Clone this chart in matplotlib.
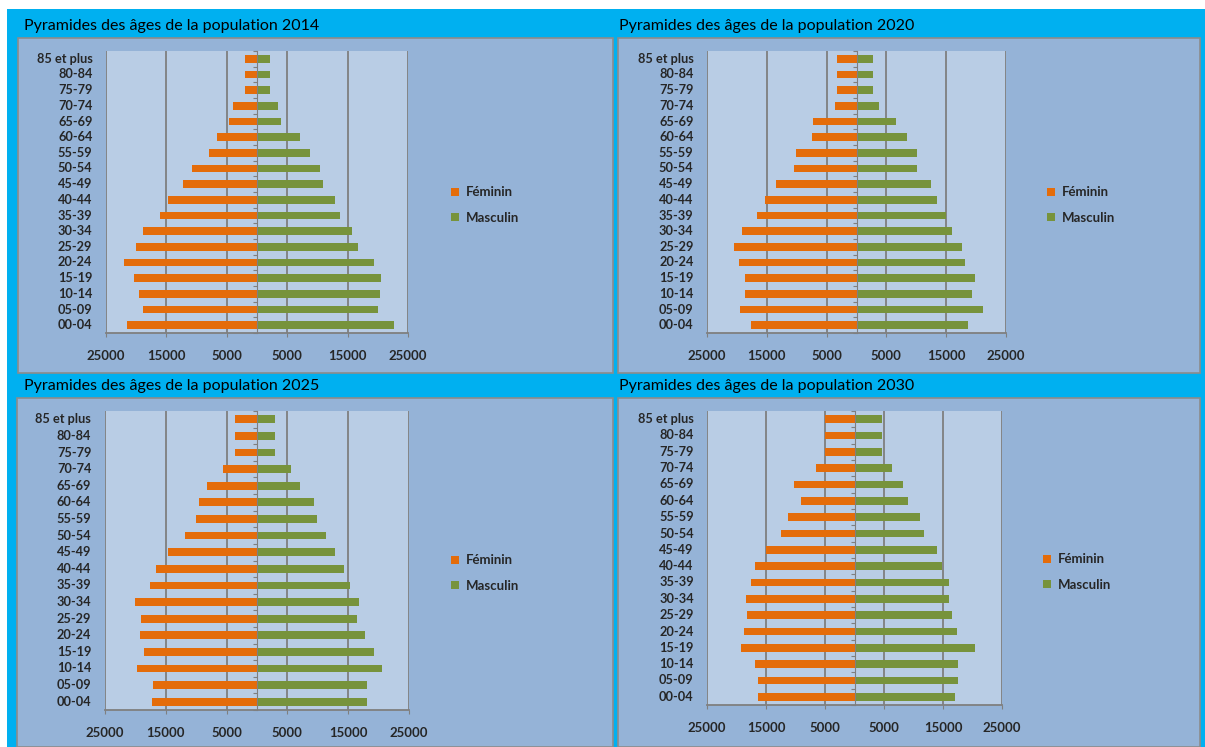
import numpy as np
import matplotlib
matplotlib.use("Agg")
import matplotlib.pyplot as plt
from matplotlib.patches import Rectangle
from matplotlib.transforms import blended_transform_factory

plt.rcParams['font.family'] = ['Lato', 'DejaVu Sans']

# age groups, bottom to top
ages = ['00-04', '05-09', '10-14', '15-19', '20-24', '25-29', '30-34', '35-39', '40-44',
        '45-49', '50-54', '55-59', '60-64', '65-69', '70-74', '75-79', '80-84', '85 et plus']

years = [2014, 2020, 2025, 2030]

fem_2014 = [21600, 18800, 19600, 20300, 22100, 20100, 18800, 16000, 14700,
            12200, 10700, 8000, 6700, 4700, 3900, 2000, 2000, 2000]
mas_2014 = [22600, 20000, 20300, 20500, 19300, 16700, 15700, 13700, 12900,
            10900, 10400, 8700, 7100, 3900, 3400, 2100, 2100, 2100]

fem_2020 = [17600, 19500, 18700, 18700, 19700, 20500, 19200, 16600, 15300,
            13500, 10400, 10200, 7400, 7200, 3600, 3300, 3300, 3300]
mas_2020 = [18600, 21100, 19300, 19800, 18100, 17600, 16000, 15000, 13500,
            12400, 10100, 10100, 8400, 6600, 3800, 2700, 2700, 2700]

fem_2025 = [17300, 17100, 19800, 18600, 19300, 19100, 20100, 17600, 16600,
            14600, 11800, 10100, 9600, 8300, 5600, 3600, 3600, 3600]
mas_2025 = [18100, 18100, 20500, 19300, 17800, 16500, 16800, 15300, 14300,
            12800, 11300, 9800, 9300, 7100, 5600, 2900, 2900, 2900]

fem_2030 = [16300, 16300, 16900, 19200, 18700, 18200, 18400, 17600, 16900,
            15000, 12500, 11200, 9100, 10200, 6500, 5000, 5000, 5000]
mas_2030 = [17000, 17500, 17500, 20400, 17300, 16500, 16000, 16000, 14900,
            13900, 11800, 11100, 9000, 8200, 6400, 4600, 4600, 4600]

data = {2014: (fem_2014, mas_2014), 2020: (fem_2020, mas_2020),
        2025: (fem_2025, mas_2025), 2030: (fem_2030, mas_2030)}

xticks = [-25000, -15000, -5000, 5000, 15000, 25000]

W, H = 1205, 747
fig = plt.figure(figsize=(W / 100, H / 100), dpi=100)
fig.patch.set_facecolor('white')


def fx(x):
    return x / W


def fy(y):
    return 1 - y / H


def rect(x0, y0, x1, y1, fc, ec='none', lw=0):
    fig.patches.append(Rectangle((fx(x0), fy(y1)), fx(x1) - fx(x0), fy(y0) - fy(y1),
                                 transform=fig.transFigure, facecolor=fc, edgecolor=ec,
                                 linewidth=lw, zorder=-5))


# cyan background
rect(7, 9, W, H, '#00B0F0')

# panel layout: box, title pos, plot area, legend pos (pixels)
panels = [
    (18, 38, 613, 373, 24, 26, 106, 51, 408, 333, 439, 205),
    (618, 38, 1200, 373, 619, 26, 707, 51, 1006, 333, 1035, 205),
    (17, 398, 613, 747, 24, 386, 105, 411, 409, 710, 439, 573),
    (618, 398, 1200, 747, 619, 386, 707, 411, 1002, 705, 1031, 572),
]

orange = '#E46C0A'
green = '#77933C'
grid_c = '#7F7F7F'
txt_c = '#262626'

for year, p in zip(years, panels):
    bx0, by0, bx1, by1, tx, ty, px0, py0, px1, py1, lx, ly = p
    rect(bx0, by0, bx1, by1, '#95B3D7', ec='#8C8C8C', lw=1.2)
    fig.text(fx(tx), fy(ty), 'Pyramides des âges de la population %d' % year,
             fontsize=11.5, color='black', va='center', ha='left')

    fem, mas = data[year]
    ax = fig.add_axes([fx(px0), fy(py1), fx(px1) - fx(px0), fy(py0) - fy(py1)])
    ax.set_facecolor('#B9CDE5')
    y = np.arange(len(ages))
    hf = ax.barh(y, -np.array(fem), height=0.47, color=orange, zorder=3, label='Féminin')
    hm = ax.barh(y, mas, height=0.47, color=green, zorder=3, label='Masculin')

    ax.set_xlim(-25000, 25000)
    ax.set_ylim(-0.5, len(ages) - 0.5)
    ax.set_xticks(xticks)
    ax.set_xticklabels([str(abs(v)) for v in xticks], fontsize=9.5, fontweight='bold', color=txt_c)
    ax.tick_params(axis='x', length=3, color=grid_c, pad=9)
    ax.xaxis.grid(True, color=grid_c, linewidth=1.3, zorder=1)
    ax.set_axisbelow(True)

    # central axis with ticks between categories
    ax.spines['left'].set_position(('data', 0))
    ax.spines['left'].set_color(grid_c)
    ax.spines['left'].set_zorder(4)
    ax.set_yticks(np.arange(-0.5, len(ages), 1))
    ax.set_yticklabels([])
    ax.tick_params(axis='y', length=3, color=grid_c, direction='out')
    for s in ['top', 'right']:
        ax.spines[s].set_visible(False)
    ax.spines['bottom'].set_color(grid_c)
    ax.spines['bottom'].set_linewidth(1.3)

    tr = blended_transform_factory(ax.transAxes, ax.transData)
    for i, a in enumerate(ages):
        ax.text(-0.045, i, a, transform=tr, ha='right', va='center',
                fontsize=9.2, fontweight='bold', color=txt_c)

    fig.legend(handles=[hf, hm], loc='center left',
               bbox_to_anchor=(fx(lx), fy(ly)), frameon=False,
               handlelength=0.6, handleheight=0.6, handletextpad=0.5, labelspacing=1.0,
               prop={'size': 9.5, 'weight': 'bold'}, labelcolor=txt_c)

fig.savefig('out.png', dpi=100)
